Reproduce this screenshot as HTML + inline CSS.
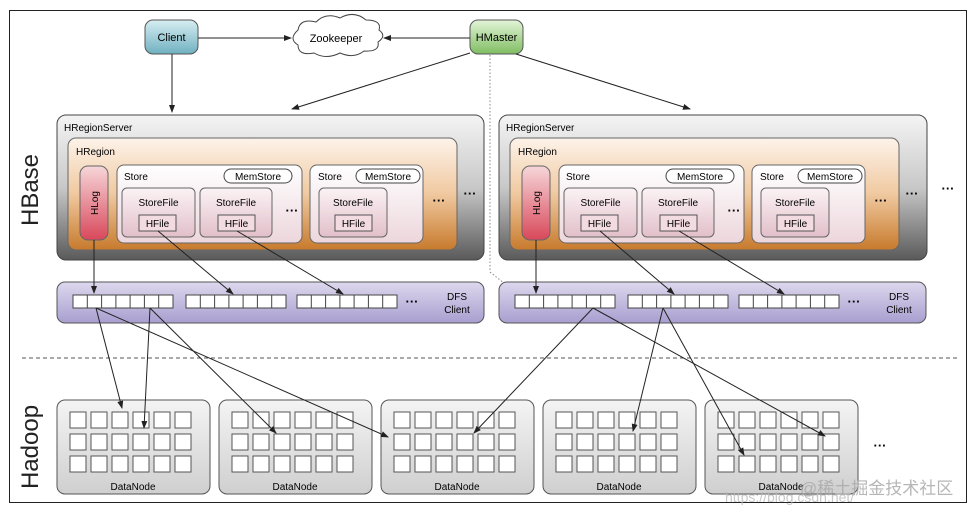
<!DOCTYPE html>
<html><head><meta charset="utf-8"><style>body{margin:0;background:#fff}svg{display:block}text{font-family:"Liberation Sans","Noto Sans CJK SC",sans-serif}</style></head><body>
<svg width="978" height="516" viewBox="0 0 978 516" xmlns="http://www.w3.org/2000/svg">
<defs>
<linearGradient id="gs" x1="0" y1="0" x2="0" y2="1"><stop offset="0" stop-color="#f4f4f4"/><stop offset="0.5" stop-color="#c8c8c8"/><stop offset="1" stop-color="#5a5a5a"/></linearGradient>
<linearGradient id="gr" x1="0" y1="0" x2="0" y2="1"><stop offset="0" stop-color="#fdf3ea"/><stop offset="0.5" stop-color="#f0c9a0"/><stop offset="1" stop-color="#c77a2c"/></linearGradient>
<linearGradient id="gst" x1="0" y1="0" x2="0" y2="1"><stop offset="0" stop-color="#ffffff"/><stop offset="1" stop-color="#ecd6dc"/></linearGradient>
<linearGradient id="gsf" x1="0" y1="0" x2="0" y2="1"><stop offset="0" stop-color="#fbf3f5"/><stop offset="1" stop-color="#e2bfca"/></linearGradient>
<linearGradient id="gh" x1="0" y1="0" x2="0" y2="1"><stop offset="0" stop-color="#f6d6d9"/><stop offset="1" stop-color="#d8485a"/></linearGradient>
<linearGradient id="gd" x1="0" y1="0" x2="0" y2="1"><stop offset="0" stop-color="#ddd8ee"/><stop offset="1" stop-color="#a89fcf"/></linearGradient>
<linearGradient id="gn" x1="0" y1="0" x2="0" y2="1"><stop offset="0" stop-color="#f4f4f4"/><stop offset="1" stop-color="#cfcfcf"/></linearGradient>
<linearGradient id="gc" x1="0" y1="0" x2="0" y2="1"><stop offset="0" stop-color="#d7eef2"/><stop offset="1" stop-color="#6fb0c0"/></linearGradient>
<linearGradient id="gm" x1="0" y1="0" x2="0" y2="1"><stop offset="0" stop-color="#e2f4d8"/><stop offset="1" stop-color="#80bd62"/></linearGradient>
<marker id="a" markerWidth="8" markerHeight="8" refX="7" refY="4" orient="auto" markerUnits="userSpaceOnUse"><path d="M0,1 L8,4 L0,7 z" fill="#222"/></marker>
<g id="cells7"><rect x="0" y="0" width="100" height="13" fill="#fff" stroke="#444"/><path d="M14.3,0v13M28.6,0v13M42.9,0v13M57.1,0v13M71.4,0v13M85.7,0v13" stroke="#444"/></g>
<g id="grid"><rect x="0" y="0" width="16" height="16" fill="#fff" stroke="#555"/><rect x="21" y="0" width="16" height="16" fill="#fff" stroke="#555"/><rect x="42" y="0" width="16" height="16" fill="#fff" stroke="#555"/><rect x="63" y="0" width="16" height="16" fill="#fff" stroke="#555"/><rect x="84" y="0" width="16" height="16" fill="#fff" stroke="#555"/><rect x="105" y="0" width="16" height="16" fill="#fff" stroke="#555"/></g>
</defs>
<rect x="9.5" y="10.5" width="957" height="492" fill="#fff" stroke="#222"/>
<text transform="translate(38,190) rotate(-90)" font-size="24" text-anchor="middle" fill="#222">HBase</text>
<text transform="translate(38,447) rotate(-90)" font-size="24" text-anchor="middle" fill="#222">Hadoop</text>

<!-- top -->
<rect x="145" y="20" width="53" height="34" rx="8" fill="url(#gc)" stroke="#555"/>
<text x="171.5" y="41" font-size="11" text-anchor="middle">Client</text>
<rect x="470" y="20" width="53" height="34" rx="8" fill="url(#gm)" stroke="#555"/>
<text x="496.5" y="41" font-size="11" text-anchor="middle">HMaster</text>
<path d="M298,30 q2,-12 18,-8 q10,-10 24,-4 q14,-8 26,2 q16,0 13,10 q8,6 -1,12 q2,10 -14,9 q-10,8 -24,2 q-14,7 -26,0 q-16,3 -16,-8 q-10,-6 0,-15z" fill="#fff" stroke="#444"/>
<text x="336" y="42" font-size="11" text-anchor="middle">Zookeeper</text>
<g stroke="#222" fill="none" stroke-width="1">
<line x1="198" y1="38" x2="291" y2="38" marker-end="url(#a)"/>
<line x1="470" y1="38" x2="384" y2="38" marker-end="url(#a)"/>
<line x1="172" y1="54" x2="172" y2="112" marker-end="url(#a)"/>
<line x1="470" y1="53" x2="292" y2="109" marker-end="url(#a)"/>
<line x1="516" y1="54" x2="690" y2="109" marker-end="url(#a)"/>
<path d="M490,55 V272 L514,291" stroke="#888" stroke-dasharray="1.5,2" marker-end="url(#a)"/>
</g>

<!-- left server -->
<g>
<rect x="57" y="115" width="427" height="145" rx="9" fill="url(#gs)" stroke="#444"/>
<text x="64" y="131" font-size="10">HRegionServer</text>
<rect x="68" y="138" width="389" height="112" rx="8" fill="url(#gr)" stroke="#666"/>
<text x="76" y="155" font-size="10">HRegion</text>
<rect x="80" y="166" width="28" height="74" rx="8" fill="url(#gh)" stroke="#666"/>
<text transform="translate(98,203) rotate(-90)" font-size="10" text-anchor="middle">HLog</text>
<rect x="117" y="165" width="185" height="78" rx="7" fill="url(#gst)" stroke="#666"/>
<text x="124" y="180" font-size="10">Store</text>
<rect x="224" y="169" width="68" height="14" rx="7" fill="#fff" stroke="#444"/>
<text x="258" y="180" font-size="10" text-anchor="middle">MemStore</text>
<rect x="122" y="188" width="73" height="49" rx="5" fill="url(#gsf)" stroke="#666"/>
<text x="158.5" y="206" font-size="10" text-anchor="middle">StoreFile</text>
<rect x="139" y="215" width="37" height="16" fill="#f3dbe2" stroke="#555"/>
<text x="157.5" y="227" font-size="10" text-anchor="middle">HFile</text>
<rect x="200" y="188" width="72" height="49" rx="5" fill="url(#gsf)" stroke="#666"/>
<text x="236" y="206" font-size="10" text-anchor="middle">StoreFile</text>
<rect x="218" y="215" width="37" height="16" fill="#f3dbe2" stroke="#555"/>
<text x="236.5" y="227" font-size="10" text-anchor="middle">HFile</text>
<text x="292" y="215" font-size="13" text-anchor="middle" font-weight="bold">···</text>
<rect x="310" y="165" width="113" height="78" rx="7" fill="url(#gst)" stroke="#666"/>
<text x="318" y="180" font-size="10">Store</text>
<rect x="356" y="169" width="64" height="14" rx="7" fill="#fff" stroke="#444"/>
<text x="388" y="180" font-size="10" text-anchor="middle">MemStore</text>
<rect x="319" y="188" width="68" height="49" rx="5" fill="url(#gsf)" stroke="#666"/>
<text x="353" y="206" font-size="10" text-anchor="middle">StoreFile</text>
<rect x="335" y="215" width="37" height="16" fill="#f3dbe2" stroke="#555"/>
<text x="353.5" y="227" font-size="10" text-anchor="middle">HFile</text>
<text x="439" y="205" font-size="13" text-anchor="middle" font-weight="bold">···</text>
<text x="470" y="198" font-size="13" text-anchor="middle" font-weight="bold">···</text>
<rect x="57" y="282" width="427" height="41" rx="8" fill="url(#gd)" stroke="#555"/>
<use href="#cells7" x="73" y="295"/><use href="#cells7" x="186" y="295"/><use href="#cells7" x="297" y="295"/>
<text x="412" y="306" font-size="13" text-anchor="middle" font-weight="bold">···</text>
<text x="457" y="300" font-size="10" text-anchor="middle">DFS</text>
<text x="457" y="313" font-size="10" text-anchor="middle">Client</text>
</g>

<!-- right server -->
<g transform="translate(442,0)">
<rect x="57" y="115" width="428" height="145" rx="9" fill="url(#gs)" stroke="#444"/>
<text x="64" y="131" font-size="10">HRegionServer</text>
<rect x="68" y="138" width="389" height="112" rx="8" fill="url(#gr)" stroke="#666"/>
<text x="76" y="155" font-size="10">HRegion</text>
<rect x="80" y="166" width="28" height="74" rx="8" fill="url(#gh)" stroke="#666"/>
<text transform="translate(98,203) rotate(-90)" font-size="10" text-anchor="middle">HLog</text>
<rect x="117" y="165" width="185" height="78" rx="7" fill="url(#gst)" stroke="#666"/>
<text x="124" y="180" font-size="10">Store</text>
<rect x="224" y="169" width="68" height="14" rx="7" fill="#fff" stroke="#444"/>
<text x="258" y="180" font-size="10" text-anchor="middle">MemStore</text>
<rect x="122" y="188" width="73" height="49" rx="5" fill="url(#gsf)" stroke="#666"/>
<text x="158.5" y="206" font-size="10" text-anchor="middle">StoreFile</text>
<rect x="139" y="215" width="37" height="16" fill="#f3dbe2" stroke="#555"/>
<text x="157.5" y="227" font-size="10" text-anchor="middle">HFile</text>
<rect x="200" y="188" width="72" height="49" rx="5" fill="url(#gsf)" stroke="#666"/>
<text x="236" y="206" font-size="10" text-anchor="middle">StoreFile</text>
<rect x="218" y="215" width="37" height="16" fill="#f3dbe2" stroke="#555"/>
<text x="236.5" y="227" font-size="10" text-anchor="middle">HFile</text>
<text x="292" y="215" font-size="13" text-anchor="middle" font-weight="bold">···</text>
<rect x="310" y="165" width="113" height="78" rx="7" fill="url(#gst)" stroke="#666"/>
<text x="318" y="180" font-size="10">Store</text>
<rect x="356" y="169" width="64" height="14" rx="7" fill="#fff" stroke="#444"/>
<text x="388" y="180" font-size="10" text-anchor="middle">MemStore</text>
<rect x="319" y="188" width="68" height="49" rx="5" fill="url(#gsf)" stroke="#666"/>
<text x="353" y="206" font-size="10" text-anchor="middle">StoreFile</text>
<rect x="335" y="215" width="37" height="16" fill="#f3dbe2" stroke="#555"/>
<text x="353.5" y="227" font-size="10" text-anchor="middle">HFile</text>
<text x="439" y="205" font-size="13" text-anchor="middle" font-weight="bold">···</text>
<text x="470" y="198" font-size="13" text-anchor="middle" font-weight="bold">···</text>
<text x="506" y="193" font-size="13" text-anchor="middle" font-weight="bold">···</text>
<rect x="57" y="282" width="427" height="41" rx="8" fill="url(#gd)" stroke="#555"/>
<use href="#cells7" x="73" y="295"/><use href="#cells7" x="186" y="295"/><use href="#cells7" x="297" y="295"/>
<text x="412" y="306" font-size="13" text-anchor="middle" font-weight="bold">···</text>
<text x="457" y="300" font-size="10" text-anchor="middle">DFS</text>
<text x="457" y="313" font-size="10" text-anchor="middle">Client</text>
</g>

<line x1="22" y1="358" x2="960" y2="358" stroke="#555" stroke-dasharray="4,3"/>

<!-- datanodes -->
<g>
<rect x="57" y="400" width="153" height="94" rx="8" fill="url(#gn)" stroke="#555"/>
<use href="#grid" x="70" y="412"/><use href="#grid" x="70" y="434"/><use href="#grid" x="70" y="456"/>
<text x="133" y="490" font-size="10" text-anchor="middle">DataNode</text>
<rect x="219" y="400" width="153" height="94" rx="8" fill="url(#gn)" stroke="#555"/>
<use href="#grid" x="232" y="412"/><use href="#grid" x="232" y="434"/><use href="#grid" x="232" y="456"/>
<text x="295" y="490" font-size="10" text-anchor="middle">DataNode</text>
<rect x="381" y="400" width="153" height="94" rx="8" fill="url(#gn)" stroke="#555"/>
<use href="#grid" x="394" y="412"/><use href="#grid" x="394" y="434"/><use href="#grid" x="394" y="456"/>
<text x="457" y="490" font-size="10" text-anchor="middle">DataNode</text>
<rect x="543" y="400" width="153" height="94" rx="8" fill="url(#gn)" stroke="#555"/>
<use href="#grid" x="556" y="412"/><use href="#grid" x="556" y="434"/><use href="#grid" x="556" y="456"/>
<text x="619" y="490" font-size="10" text-anchor="middle">DataNode</text>
<rect x="705" y="400" width="153" height="94" rx="8" fill="url(#gn)" stroke="#555"/>
<use href="#grid" x="718" y="412"/><use href="#grid" x="718" y="434"/><use href="#grid" x="718" y="456"/>
<text x="781" y="490" font-size="10" text-anchor="middle">DataNode</text>
<text x="880" y="450" font-size="13" text-anchor="middle" font-weight="bold">···</text>
</g>

<!-- arrows -->
<g stroke="#222" fill="none" stroke-width="1">
<line x1="94" y1="240" x2="94" y2="293" marker-end="url(#a)"/>
<line x1="158" y1="231" x2="233" y2="294" marker-end="url(#a)"/>
<line x1="237" y1="231" x2="343" y2="294" marker-end="url(#a)"/>
<line x1="536" y1="240" x2="536" y2="293" marker-end="url(#a)"/>
<line x1="600" y1="231" x2="674" y2="294" marker-end="url(#a)"/>
<line x1="679" y1="231" x2="784" y2="294" marker-end="url(#a)"/>
<line x1="96" y1="308" x2="122" y2="408" marker-end="url(#a)"/>
<line x1="96" y1="308" x2="388" y2="437" marker-end="url(#a)"/>
<line x1="150" y1="308" x2="144" y2="428" marker-end="url(#a)"/>
<line x1="150" y1="308" x2="276" y2="433" marker-end="url(#a)"/>
<line x1="593" y1="308" x2="474" y2="433" marker-end="url(#a)"/>
<line x1="593" y1="308" x2="825" y2="436" marker-end="url(#a)"/>
<line x1="663" y1="308" x2="633" y2="431" marker-end="url(#a)"/>
<line x1="663" y1="308" x2="744" y2="455" marker-end="url(#a)"/>
</g>

<text x="725" y="502" font-size="14" fill="#bbb" opacity="0.8">https://blog.csdn.net/</text>
<text x="800" y="494" font-size="17" fill="#aaa" opacity="0.85">@稀土掘金技术社区</text>
</svg>
</body></html>
